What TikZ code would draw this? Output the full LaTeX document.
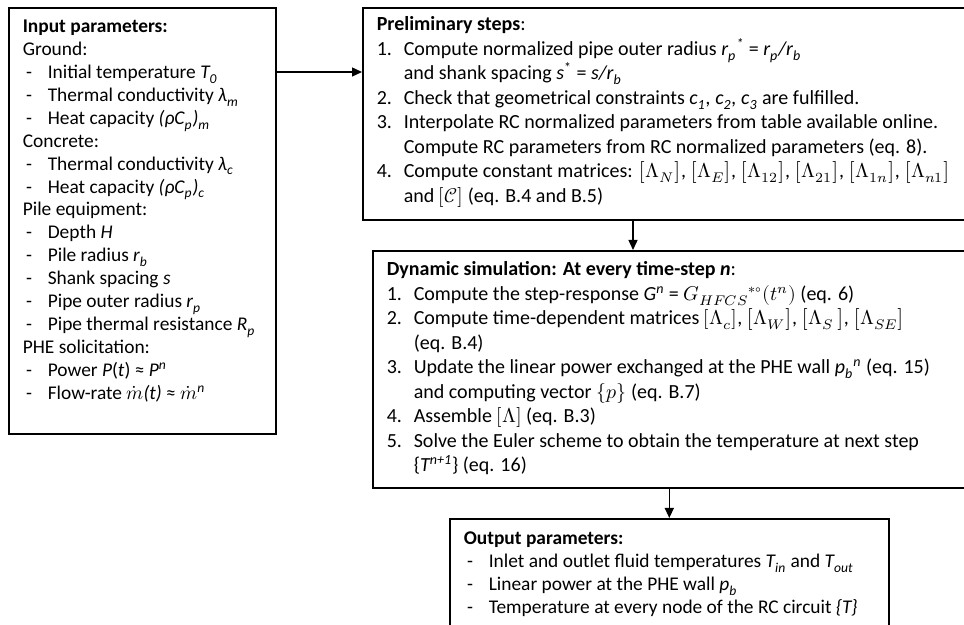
\documentclass[tikz,border=0pt]{standalone}
\usepackage{fontspec}
\usepackage{unicode-math}
\setmainfont{Carlito}
\setmathfont{Latin Modern Math}
\usetikzlibrary{arrows.meta}

\newcommand{\inpfont}{\fontsize{9.7}{11.45}\selectfont}
\newcommand{\stepfont}{\fontsize{10}{12.25}\selectfont}
\newcommand{\dashitem}{\par\hangindent=12.5pt\hangafter=1\noindent\makebox[12.5pt][l]{\,-}}
\newcommand{\numitem}[1]{\par\hangindent=13.5pt\hangafter=1\noindent\makebox[13.5pt][l]{#1}}
\newcommand{\boxtext}[5]{\parbox[t][#1][t]{#2}{#3\raggedright\rule{0pt}{#4}#5}}

\begin{document}
\begin{tikzpicture}[x=0.5pt,y=-0.5pt,
    box/.style={draw,line width=0.8pt,anchor=north west,inner xsep=7pt,inner ysep=0pt},
    flow/.style={-{Triangle[length=5pt,width=4.5pt]},line width=0.7pt}]
    \useasboundingbox (0,0) rectangle (964,625);
    \clip (0,0) rectangle (964,625);
    % input box
    \node[box] (inp) at (8,7) {\boxtext{213pt}{119.5pt}{\inpfont}{12.5pt}{%
        \textbf{Input parameters:}\par
        Ground:
        \dashitem Initial temperature \textit{T\textsubscript{0}}
        \dashitem Thermal conductivity \textit{λ\textsubscript{m}}
        \dashitem Heat capacity \textit{(ρC\textsubscript{p})\textsubscript{m}}
        \par Concrete:
        \dashitem Thermal conductivity \textit{λ\textsubscript{c}}
        \dashitem Heat capacity \textit{(ρC\textsubscript{p})\textsubscript{c}}
        \par Pile equipment:
        \dashitem Depth \textit{H}
        \dashitem Pile radius \textit{r\textsubscript{b}}
        \dashitem Shank spacing \textit{s}
        \dashitem Pipe outer radius \textit{r\textsubscript{p}}
        \dashitem Pipe thermal resistance \textit{R\textsubscript{p}}
        \par PHE solicitation:
        \dashitem Power \textit{P}(\textit{t}) ≈ \textit{P}\textsuperscript{\textit{n}}
        \dashitem Flow-rate $\dot{m}$\textit{(t)} ≈ $\dot{m}$\textsuperscript{\textit{n}}}};
    % preliminary steps
    \node[box] (prel) at (362,7) {\boxtext{106pt}{300pt}{\stepfont}{11.5pt}{%
        \textbf{Preliminary steps}:
        \numitem{1.}Compute normalized pipe outer radius \textit{r\textsubscript{p}\textsuperscript{*}} = \textit{r\textsubscript{p}/r\textsubscript{b}}\newline
        and shank spacing \textit{s}\textsuperscript{*} = \textit{s/r\textsubscript{b}}
        \numitem{2.}Check that geometrical constraints \textit{c\textsubscript{1}, c\textsubscript{2}, c\textsubscript{3}} are fulfilled.
        \numitem{3.}Interpolate RC normalized parameters from table available online.\newline
        Compute RC parameters from RC normalized parameters (eq. 8).
        \numitem{4.}Compute constant matrices: $\bigl[\Lambda_N\bigr]$, $\bigl[\Lambda_E\bigr]$, $\bigl[\Lambda_{12}\bigr]$, $\bigl[\Lambda_{21}\bigr]$, $\bigl[\Lambda_{1n}\bigr]$, $\bigl[\Lambda_{n1}\bigr]$\newline
        and $[\mathcal{C}]$ (eq. B.4 and B.5)}};
    % dynamic simulation
    \node[box] (dyn) at (372,250) {\boxtext{118.5pt}{295pt}{\stepfont}{12.5pt}{%
        \textbf{Dynamic simulation: At every time-step \textit{n}}:
        \numitem{1.}Compute the step-response \textit{G\textsuperscript{n}} = $G_{HFCS}{}^{*\circ}(t^{n})$ (eq. 6)
        \numitem{2.}Compute time-dependent matrices $[\Lambda_c]$, $\bigl[\Lambda_W\bigr]$, $\bigl[\Lambda_S\,\bigr]$, $\bigl[\Lambda_{SE}\bigr]$\newline
        (eq. B.4)
        \numitem{3.}Update the linear power exchanged at the PHE wall \textit{p\textsubscript{b}\textsuperscript{n}} (eq. 15)\newline
        and computing vector $\{\symscr{p}\}$ (eq. B.7)
        \numitem{4.}Assemble $[\Lambda]$ (eq. B.3)
        \numitem{5.}Solve the Euler scheme to obtain the temperature at next step\newline
        \{\textit{T\textsuperscript{n+1}}\} (eq. 16)}};
    % output box
    \node[box] (out) at (449,518) {\boxtext{70pt}{205.5pt}{\inpfont}{13pt}{%
        \textbf{Output parameters:}
        \dashitem Inlet and outlet fluid temperatures \textit{T\textsubscript{in}} and \textit{T\textsubscript{out}}
        \dashitem Linear power at the PHE wall \textit{p\textsubscript{b}}
        \dashitem Temperature at every node of the RC circuit \textit{\{T\}}}};
    % connectors
    \coordinate (lvl) at (0,72);
    \coordinate (col) at (633,0);
    \draw[flow] (inp.east |- lvl) -- (prel.west |- lvl);
    \draw[flow] (prel.south -| col) -- (dyn.north -| col);
    \draw[flow] (dyn.south -| out.north) -- (out.north);
\end{tikzpicture}
\end{document}
